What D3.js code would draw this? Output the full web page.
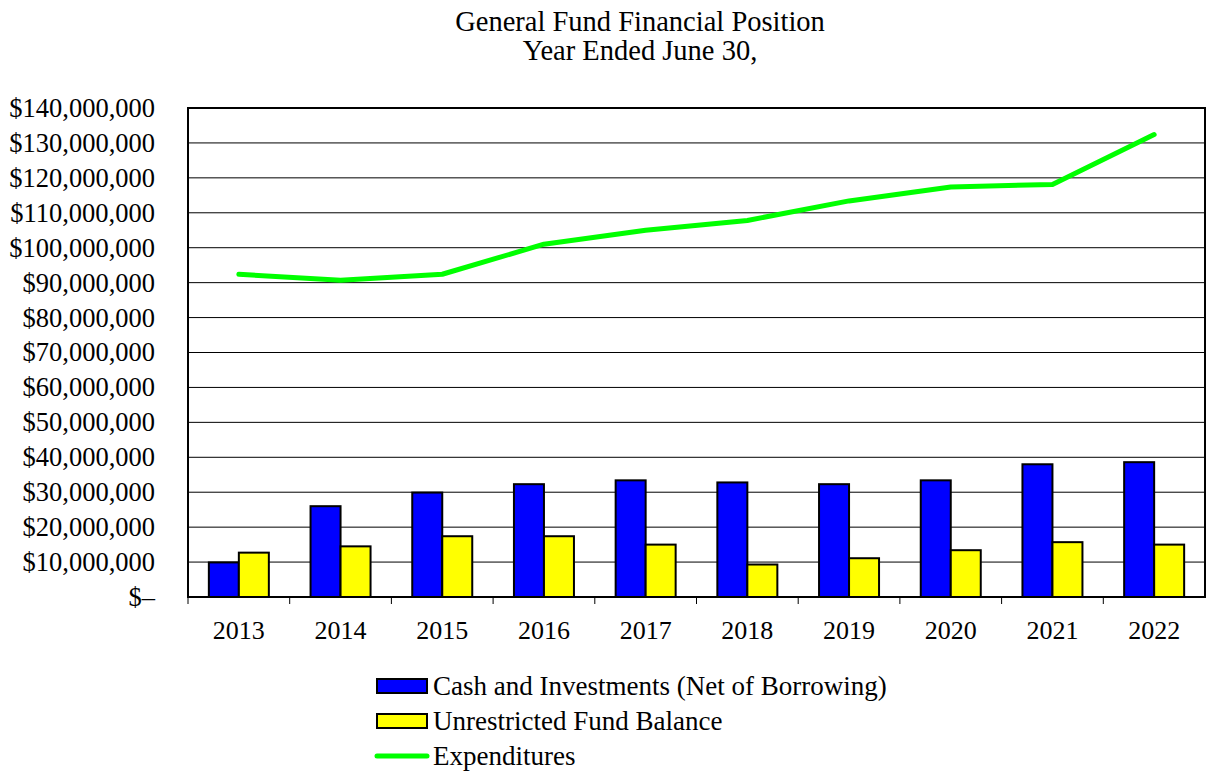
<!DOCTYPE html>
<html>
<head>
<meta charset="utf-8">
<script src="https://cdn.jsdelivr.net/npm/d3@7"></script>
<style>
  body { margin: 0; background: #fff; }
  svg text { font-family: "Liberation Serif", "Times New Roman", Times, serif !important; fill: #000; }
</style>
</head>
<body>
<div id="chart"></div>
<script>
const years = ["2013","2014","2015","2016","2017","2018","2019","2020","2021","2022"];
const cash = [9.9, 26.0, 29.9, 32.3, 33.4, 32.8, 32.3, 33.4, 38.0, 38.6];
const fundBalance = [12.7, 14.5, 17.4, 17.4, 15.0, 9.3, 11.1, 13.4, 15.7, 15.0];
const expenditures = [92.4, 90.7, 92.4, 101.0, 105.0, 107.8, 113.4, 117.4, 118.1, 132.4];
const yTicks = [0,10,20,30,40,50,60,70,80,90,100,110,120,130,140];
const seriesNames = ["Cash and Investments (Net of Borrowing)", "Unrestricted Fund Balance", "Expenditures"];

const W = 1207, H = 775;
const m = {t:108, r:2, b:178, l:188};
const fs = "26.5px";

const svg = d3.select("#chart").append("svg")
  .attr("width", W).attr("height", H);

const x = d3.scaleBand().domain(years).range([m.l, W - m.r]);
const y = d3.scaleLinear().domain([0, 140]).range([H - m.b, m.t]);

const fmt = v => v === 0 ? "$\u2013" : "$" + d3.format(",")(v * 1e6);

// title
svg.append("text").attr("x", 640).attr("y", 31).attr("text-anchor", "middle")
  .style("font-size", "28.5px").text("General Fund Financial Position");
svg.append("text").attr("x", 640).attr("y", 60).attr("text-anchor", "middle")
  .style("font-size", "28.5px").text("Year Ended June 30,");

// gridlines
svg.append("g").selectAll("line").data(yTicks.filter(t => t > 0 && t < 140)).join("line")
  .attr("x1", m.l).attr("x2", W - m.r)
  .attr("y1", d => y(d)).attr("y2", d => y(d))
  .attr("stroke", "#000").attr("stroke-width", 1);

// y axis labels
const axisY = d3.axisLeft(y).tickValues(yTicks).tickSize(0).tickPadding(33).tickFormat(fmt);
const gy = svg.append("g").attr("transform", `translate(${m.l},0)`).call(axisY);
gy.select(".domain").remove();
gy.selectAll("text").style("font-size", fs);

// x axis
const axisX = d3.axisBottom(x).tickSize(0).tickPadding(24);
const gx = svg.append("g").attr("transform", `translate(0,${y(0)})`).call(axisX);
gx.select(".domain").remove();
gx.selectAll("text").style("font-size", "26px");
svg.append("g").selectAll("line").data(years).join("line")
  .attr("x1", d => x(d)).attr("x2", d => x(d))
  .attr("y1", y(0)).attr("y2", y(0) + 7)
  .attr("stroke", "#000").attr("stroke-width", 1);

// bars
const bw = 30;
const groups = svg.append("g").selectAll("g").data(years).join("g");
groups.append("rect")
  .attr("x", (d) => x(d) + x.bandwidth() / 2 - bw)
  .attr("y", (d, i) => y(cash[i]))
  .attr("width", bw)
  .attr("height", (d, i) => y(0) - y(cash[i]))
  .attr("fill", "#0000ff").attr("stroke", "#000").attr("stroke-width", 2);
groups.append("rect")
  .attr("x", (d) => x(d) + x.bandwidth() / 2)
  .attr("y", (d, i) => y(fundBalance[i]))
  .attr("width", bw)
  .attr("height", (d, i) => y(0) - y(fundBalance[i]))
  .attr("fill", "#ffff00").attr("stroke", "#000").attr("stroke-width", 2);

// plot border
svg.append("rect")
  .attr("x", m.l).attr("y", m.t)
  .attr("width", W - m.r - m.l).attr("height", y(0) - m.t)
  .attr("fill", "none").attr("stroke", "#000").attr("stroke-width", 2);

// expenditures line
const line = d3.line()
  .x((d, i) => x(years[i]) + x.bandwidth() / 2)
  .y(d => y(d));
svg.append("path").datum(expenditures)
  .attr("d", line)
  .attr("fill", "none").attr("stroke", "#00ff00")
  .attr("stroke-width", 5).attr("stroke-linecap", "round").attr("stroke-linejoin", "round");

// legend
const lg = svg.append("g").attr("transform", "translate(376,686)");
lg.append("rect").attr("x", 1).attr("y", -7).attr("width", 50).attr("height", 14)
  .attr("fill", "#0000ff").attr("stroke", "#000").attr("stroke-width", 2);
lg.append("rect").attr("x", 1).attr("y", 28).attr("width", 50).attr("height", 14)
  .attr("fill", "#ffff00").attr("stroke", "#000").attr("stroke-width", 2);
lg.append("line").attr("x1", 1).attr("x2", 51).attr("y1", 70).attr("y2", 70)
  .attr("stroke", "#00ff00").attr("stroke-width", 5).attr("stroke-linecap", "round");
lg.selectAll("text.leg").data(seriesNames).join("text")
  .attr("class", "leg")
  .attr("x", 57).attr("y", (d, i) => i * 35 + 9)
  .style("font-size", "27px").text(d => d);
</script>
</body>
</html>
